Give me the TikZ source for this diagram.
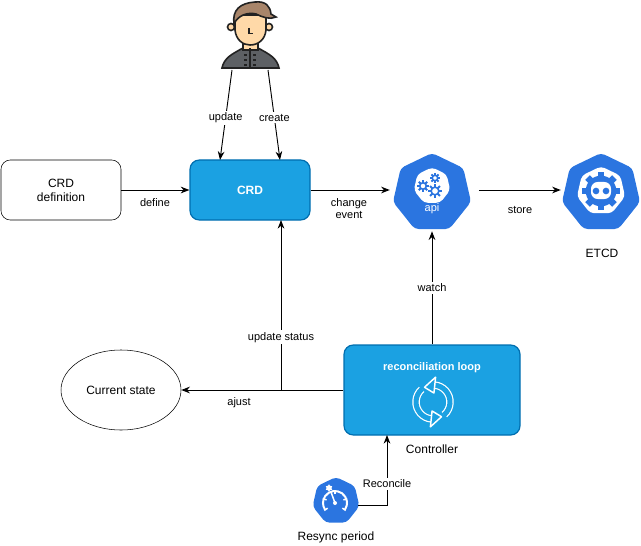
\documentclass[tikz,border=0pt]{standalone}
\usepackage{fontspec}
\setmainfont{Liberation Sans}
\usepackage{tikz}
\usetikzlibrary{shapes.geometric, arrows, arrows.meta, calc, positioning}

\definecolor{boxblue}{HTML}{1BA1E2}
\definecolor{boxedge}{HTML}{006EAF}
\definecolor{kubeblue}{HTML}{2B75E0}
\definecolor{skintone}{HTML}{FFD9A8}
\definecolor{hairtone}{HTML}{A8856A}
\definecolor{coattone}{HTML}{5D6064}
\definecolor{darkline}{HTML}{222222}

\begin{document}
\begin{tikzpicture}[x=0.75pt, y=-0.75pt]
    \tikzset{
        > = {Stealth[length=6.5pt, width=5pt]},
        block/.style = {rectangle, rounded corners=7pt, draw=black, fill=white,
                        minimum width=90pt, minimum height=45pt, align=center, font=\fontsize{9}{10.5}\selectfont},
        solidblock/.style = {rectangle, rounded corners=7pt, draw=boxedge, line width=0.9pt, fill=boxblue,
                        text=white, align=center},
        kube/.style = {regular polygon, regular polygon sides=7, fill=kubeblue, inner sep=0pt, rounded corners=3pt},
        line/.style = {->, line width=0.7pt},
        tag/.style = {font=\fontsize{8.25}{9}\selectfont, align=center},
        caption/.style = {font=\fontsize{9}{11}\selectfont, align=center},
        gear/.pic = {
            \foreach \a in {0,45,...,315}
                \draw [kubeblue, line width=1.4pt] (\a:#1*0.55) -- (\a:#1);
            \draw [kubeblue, fill=white, line width=1.2pt] (0,0) circle [radius=#1*0.55];
        },
        looparrow/.pic = {
            \foreach \rot in {0,180} {
                \begin{scope}[rotate=\rot]
                    \draw [white, line width=5.6pt] (-48:17) arc [start angle=-48, end angle=84, radius=12.75pt];
                    \draw [boxblue, line width=3.8pt] (-49:17) arc [start angle=-49, end angle=86, radius=12.75pt];
                    \draw [white, line width=1.1pt, fill=boxblue, line join=round] (84:9) -- (84:25) -- (120:17) -- cycle;
                \end{scope}
            }
        },
        gauge/.pic = {
            \draw [white, line width=1.5pt] (-35:12) arc [start angle=-35, end angle=215, radius=9pt];
            \foreach \a in {-35,20,90,160,215}
                \draw [white, line width=1.1pt] (\a:9) -- (\a:13);
            \draw [white, line width=1.1pt, line cap=round] (0,0) -- (110:11);
            \fill [white] (0,0) circle [radius=1.5pt];
            \node [star, star points=6, fill=white, inner sep=0pt, minimum size=5.5pt] (gaugestar) at (-6,15) {};
        },
        etcdface/.pic = {
            \node [regular polygon, regular polygon sides=7, fill=white, inner sep=0pt, minimum size=37pt, rounded corners=3pt] (etcdring) at (0,0) {};
            \foreach \a in {0,45,...,315}
                \draw [kubeblue, line width=5pt] (\a:8) -- (\a:19);
            \fill [kubeblue] (0,0) circle [radius=11.5pt];
            \fill [white, rounded corners=5pt] (-10,-8) rectangle (10,9);
            \fill [kubeblue] (-5,0) circle [radius=2.5pt] (5,0) circle [radius=2.5pt];
        }
    }
    \useasboundingbox (0,0) rectangle (641,545);

    % the boxes
    \node [block] (crddef) at (61,190) {CRD\\definition};
    \node [solidblock, minimum width=90pt, minimum height=45pt, font=\bfseries\fontsize{9}{11}\selectfont] (crd) at (250,190) {CRD};
    \node [solidblock, minimum width=132pt, minimum height=67.5pt] (loop) at (432,390) {};
    \node [draw=black, fill=white, ellipse, minimum width=90pt, minimum height=60pt, font=\fontsize{9}{11}\selectfont] (current) at (121,390) {Current state};

    % the hexagons
    \node [kube, minimum size=60pt] (api) at (432,193) {};
    \node [kube, minimum size=60pt] (etcd) at (601,193) {};
    \node [kube, minimum size=36pt] (resync) at (336,501) {};

    % the person
    \coordinate (userleft) at (232,70);
    \coordinate (userright) at (268,70);
    \begin{scope}[draw=darkline, line width=1.2pt]
        \filldraw [fill=skintone] (231,27) circle [radius=3.5];
        \filldraw [fill=skintone] (269,27) circle [radius=3.5];
        \filldraw [fill=coattone] (222,68) .. controls (224,58) and (232,54) .. (243,48) -- (258,48) .. controls (269,54) and (277,58) .. (279,68) -- cycle;
        \filldraw [fill=skintone] (243,43) rectangle (258,50);
        \filldraw [fill=skintone] (235,15) -- (235,30) .. controls (236,40) and (243,45) .. (250,45) .. controls (258,45) and (265,40) .. (266,30) -- (266,15) -- cycle;
        \filldraw [fill=hairtone] (234,24) .. controls (232,10) and (240,3) .. (255,2) .. controls (266,1) and (270,6) .. (271,14) -- (276,17) .. controls (270,20) and (262,17) .. (256,14) .. controls (248,12) and (238,15) .. (234,24) -- cycle;
        \draw [line width=0.9pt] (250,68) -- (250,48);
        \draw [line width=1pt] (249,28) -- (249,33.5) -- (253,33.5);
    \end{scope}
    \foreach \py in {54,59,64} {
        \fill [darkline] (244,\py) rectangle (247,\py+2);
        \fill [darkline] (253,\py) rectangle (256,\py+2);
    }

    % the icons
    \node [kube, fill=white, minimum size=28pt] (apicore) at (432,186) {};
    \pic at (423,186) {gear=6};
    \pic at (435,178) {gear=5};
    \pic at (435,191) {gear=7};
    \node [text=white, tag] (apitext) at (432,209) {api};
    \coordinate (etcdspot) at (601,191);
    \coordinate (gaugespot) at (335,503);
    \coordinate (loopspot) at (433,402);
    \pic [x=0.75pt, y=0.75pt] at (etcdspot) {etcdface};
    \pic [x=0.75pt, y=0.75pt] at (gaugespot) {gauge};
    \pic [x=0.75pt, y=0.75pt] at (loopspot) {looparrow};
    \node [text=white, font=\bfseries\fontsize{8.25}{10}\selectfont] (looptitle) at (432,368) {reconciliation loop};

    % the captions
    \node [caption] (etcdname) at (602,253) {ETCD};
    \node [caption] (ctrlname) at (432,449) {Controller};
    \node [caption] (resyncname) at (336,537) {Resync period};

    % the connectors
    \draw [line] (userleft) -- node[tag, fill=white, inner sep=1.5pt, pos=0.53]{update} (220,160);
    \draw [line] (userright) -- node[tag, fill=white, inner sep=1.5pt, pos=0.53]{create} (280,160);
    \draw [line] (crddef.east) -- (crd.west);
    \draw [line] (crd.east) -- ($(crd.east -| api.west)+(-5,0)$);
    \draw [line] ($(etcd.west |- crd.east)+(-85,0)$) -- ($(etcd.west |- crd.east)+(-3,0)$);
    \draw [line] (loop.north) -- node[tag, fill=white, inner sep=1.5pt, pos=0.5]{watch} ($(api.south)+(0,2)$);
    \draw [line] (loop.west) -- (current.east);
    \draw [line] (281,390) -- node[tag, fill=white, inner sep=1.5pt, pos=0.31]{update status} (281,220);
    \draw [line] (resync.east |- 387,505) -| node[tag, fill=white, inner sep=1.5pt, pos=0.65]{Reconcile} (387,435);

    % the edge labels
    \node [tag] (definetag) at (155,203) {define};
    \node [tag] (changetag) at (349,209) {change\\event};
    \node [tag] (storetag) at (520,210) {store};
    \node [tag] (ajusttag) at (239,403) {ajust};
\end{tikzpicture}
\end{document}
